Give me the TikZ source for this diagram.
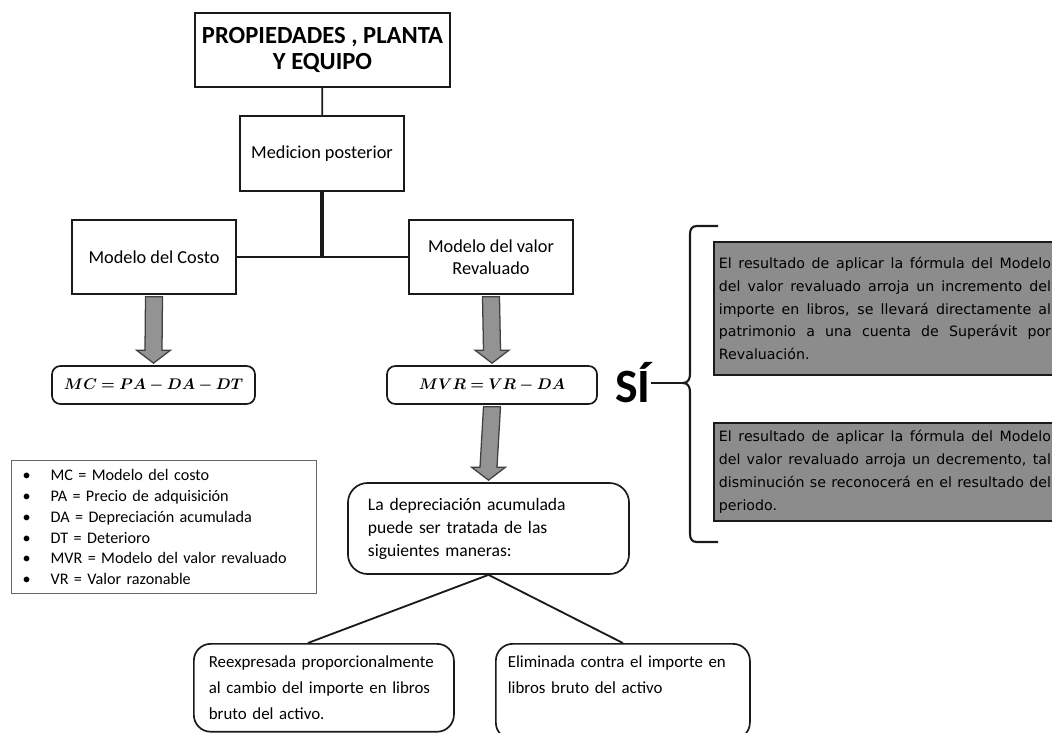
\documentclass[tikz,border=0pt]{standalone}
\usepackage{bm}
\usepackage{fontspec}
\setmainfont{Carlito}
\newfontfamily\tahoma{DejaVu Sans}
\usetikzlibrary{calc}
\definecolor{grisfondo}{HTML}{8C8C8C}
\definecolor{grisflecha}{HTML}{939393}
\definecolor{borde}{HTML}{1A1A1A}
\tikzset{
  caja/.style={draw=borde, line width=1.2pt, align=center, inner sep=0pt},
  cajar/.style={caja, rounded corners=6pt, font=\fontsize{10.5}{12}\selectfont},
  cajab/.style={draw=borde, line width=1.2pt, rounded corners=12pt, align=left, inner ysep=0.3cm, inner xsep=0.375cm},
  cajagris/.style={draw=borde, line width=1.3pt, fill=grisfondo, align=justify, inner xsep=0.125cm, inner ysep=0pt, font=\tahoma\fontsize{10.1}{16.2}\selectfont},
  flechag/.style={draw=black!75, line width=0.9pt, fill=grisflecha},
  linea/.style={draw=borde, line width=1.3pt}
}
% flecha gris ancha entre dos nodos
\newcommand{\flechagris}[2]{%
  \draw[flechag] ($(#1.south)+(-8.5,2)$) -- ($(#2.north)+(-8.5,-15)$) -- ($(#2.north)+(-17,-15)$) -- ($(#2.north)+(0,-2)$) -- ($(#2.north)+(17,-15)$) -- ($(#2.north)+(8.5,-15)$) -- ($(#1.south)+(8.5,2)$) -- cycle;}
\newcommand{\formula}[1]{\ensuremath{\bm{#1}}}

\begin{document}
\begin{tikzpicture}[x=0.025cm, y=-0.025cm, font=\fontsize{13}{15.5}\selectfont]
\useasboundingbox (0,0) rectangle (1052,732);
\clip (0,0) rectangle (1052,732);

% arbol principal
\node[caja, minimum width=6.375cm, minimum height=1.85cm, font=\bfseries\fontsize{17.5}{19}\selectfont] (titulo) at (322.5,50) {PROPIEDADES , PLANTA\\Y EQUIPO};
\node[caja, minimum width=4.1cm, minimum height=1.875cm] (medicion) at (322,153.5) {Medicion posterior};
\node[caja, minimum width=4.1cm, minimum height=1.85cm] (costo) at (154,257) {Modelo del Costo};
\node[caja, minimum width=4.1cm, minimum height=1.85cm] (valor) at (491,257) {Modelo del valor\\Revaluado};
\draw[linea] (titulo) -- (medicion);
\draw[linea, line width=2.2pt] (medicion) -- (medicion |- costo);
\draw[linea] (costo) -- (valor);

\node[cajar, minimum width=5.075cm, minimum height=0.95cm] (mc) at (153.5,385) {\formula{MC = PA - DA - DT}};
\node[cajar, minimum width=5.25cm, minimum height=0.95cm] (mvr) at (492,385) {\formula{MVR = VR - DA}};
\node[cajab, text width=6.025cm, inner xsep=0.5cm, inner ysep=0pt, minimum height=2.275cm, rounded corners=14pt, font=\fontsize{12.5}{16.4}\selectfont] (depre) at (488.5,528.5) {La depreciación acumulada\\puede ser tratada de las\\siguientes maneras:};
\flechagris{costo}{mc}
\flechagris{valor}{mvr}
\flechagris{mvr}{depre}

\node[cajab, text width=5.75cm, anchor=north west, font=\fontsize{12}{18.5}\selectfont] (reex) at (193,643) {Reexpresada proporcionalmente\\al cambio del importe en libros\\bruto del activo.};
\node[cajab, text width=5.75cm, inner xsep=0.3cm, anchor=north west, font=\fontsize{12}{18.5}\selectfont] (elim) at (495,643) {Eliminada contra el importe en\\libros bruto del activo\\\strut};
\draw[linea] (depre.south) -- ($(reex.north)+(-16,0)$);
\draw[linea] (depre.south) -- (elim.north);

% leyenda
\node[draw=black!60, line width=0.8pt, anchor=north west, minimum width=7.625cm, minimum height=3.325cm, text width=7.075cm, inner xsep=0.275cm, align=left, font=\fontsize{11.5}{14.8}\selectfont] (leyenda) at (11,460) {\textbullet\hspace{0.5cm}MC = Modelo del costo\\\textbullet\hspace{0.5cm}PA = Precio de adquisición\\\textbullet\hspace{0.5cm}DA = Depreciación acumulada\\\textbullet\hspace{0.5cm}DT = Deterioro\\\textbullet\hspace{0.5cm}MVR = Modelo del valor revaluado\\\textbullet\hspace{0.5cm}VR = Valor razonable};

% llave y casos
\node[font=\bfseries\fontsize{34}{34}\selectfont, inner sep=0pt] (si) at (633,383) {SÍ};
\coordinate (punta) at (683,383);
\draw[linea] (si.east) -- (punta);
\draw[linea, line width=1.5pt] (718,226) -- (697,226) .. controls (692,226) and (690,229) .. (690,234) -- (690,374) .. controls (690,379) and (688,383) .. (punta) .. controls (688,383) and (690,387) .. (690,392) -- (690,534) .. controls (690,539) and (692,542) .. (697,542) -- (718,542);

\node[cajagris, anchor=north west, text width=8.3cm, minimum height=3.325cm] (incremento) at (713,241) {El resultado de aplicar la fórmula del Modelo\linebreak del valor revaluado arroja un incremento del\linebreak importe en libros, se llevará directamente al\linebreak patrimonio a una cuenta de Superávit por\linebreak Revaluación.};
\node[cajagris, anchor=north west, text width=8.3cm, minimum height=2.45cm] (decremento) at (713,422) {El resultado de aplicar la fórmula del Modelo\linebreak del valor revaluado arroja un decremento, tal\linebreak disminución se reconocerá en el resultado del\linebreak periodo.};
\end{tikzpicture}
\end{document}
